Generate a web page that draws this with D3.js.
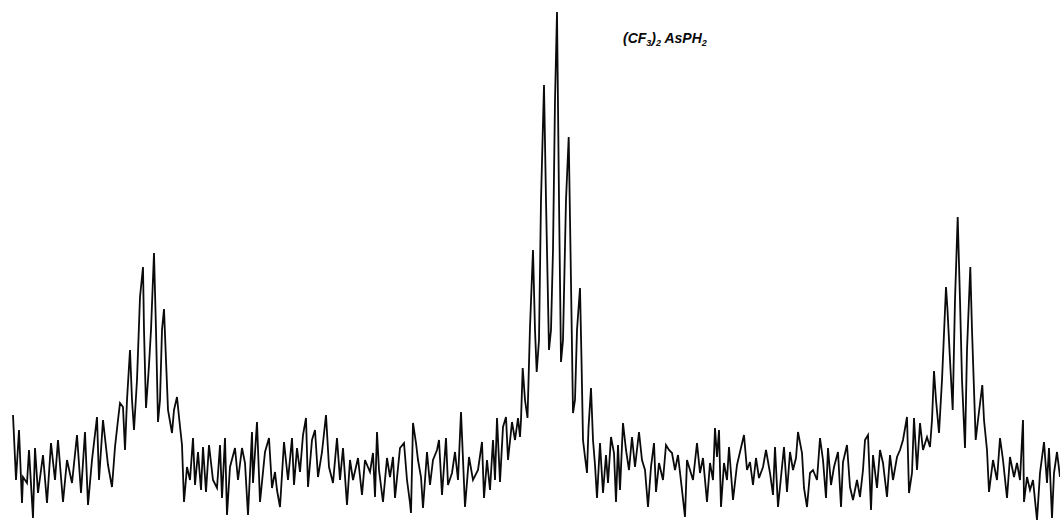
<!DOCTYPE html>
<html>
<head>
<meta charset="utf-8">
<script src="https://cdn.jsdelivr.net/npm/d3@7"></script>
<style>
  body { margin: 0; background: #fff; }
  svg { display: block; }
</style>
</head>
<body>
<div id="chart"></div>
<script>
// spectrum trace: [channel, intensity above baseline]
var baseline = [
  [13,55],[16,-10],[19,40],[22,-33],[23,-7],[27,-13],[29,20],[33,-48],[35,22],[38,-23],
  [43,15],[47,-33],[51,27],[55,-10],[58,30],[63,-32],[67,10],[72,-13],[77,35],[81,-23],
  [85,38],[88,-35],[92,10],[97,53],[99,-10],[103,50],[108,5],[112,-17],[115,23]
]
var leftMultiplet = [
  [118,50],[120,67],[123,63],[125,20],[127,70],[130,120],[132,70],[134,40],[137,90],[140,173],
  [143,203],[144,140],[146,62],[148,90],[149,105],[151,140],[154,217],[156,140],[158,48],[160,70],
  [162,140],[164,161],[166,110],[168,60],[172,37],[174,60],[177,73],[179,53],[182,25]
]
var midLeft = [
  [184,-32],[187,3],[190,-10],[193,32],[195,-15],[198,18],[201,-20],[203,23],[206,-22],[209,25],
  [213,-10],[217,-18],[220,25],[222,-28],[225,32],[227,-45],[230,3],[235,22],[238,-10],[242,22],
  [245,7],[248,-45],[252,38],[253,-13],[257,48],[260,-32],[265,18],[269,32],[272,-18],[275,-2],
  [277,-20],[280,-37],[284,28],[288,-10],[292,32],[294,-15],[297,22],[300,-2],[303,35],[306,52],
  [308,-17],[312,30],[315,40],[318,-7],[322,18],[326,55],[329,3],[333,-13],[337,32],[340,-10],
  [343,22],[347,-35],[350,10],[353,-10],[358,12],[362,-25],[365,10],[370,-2],[373,17],[375,-27],
  [377,38],[379,0],[383,-32],[387,12],[390,-7],[393,13],[395,-28],[400,22],[404,27],[407,-10],
  [410,-33],[411,-43],[413,47],[416,27],[418,10],[421,-7],[423,-38],[427,18],[430,-15],[433,10],
  [437,20],[439,30],[442,-25],[446,32],[448,-15],[452,-3],[455,18],[458,-10],[461,58],[465,-37],
  [469,13],[473,-10],[478,0],[482,28],[484,-28],[487,10],[490,-20],[493,30],[495,-10],[497,52],
  [500,-12],[503,43],[506,53],[508,10],[512,48],[515,30],[518,52],[520,33]
]
var centralMultiplet = [
  [521,50],[522.7,102],[525,70],[527.5,52],[530,143],[533,220],[535,140],[536.7,98],[539,130],[541,270],
  [544,385],[546,270],[549,120],[551,140],[553,220],[555,370],[557,458],[559,270],[561,108],[563,130],
  [566,270],[568.7,333],[570.5,220],[573,57],[575,70],[577,140],[580,182],[581.5,110],[583,30],[585,13],
  [587,-3],[588.5,42],[591,82],[593,30],[595,5]
]
var midRight = [
  [597,-28],[600,27],[603,-23],[606,15],[608,-13],[611,33],[614,17],[616,-32],[618,25],[620,-20],
  [623,47],[626,20],[629,0],[632,33],[635,3],[639,38],[642,10],[645,0],[648,-37],[651,3],
  [654,27],[656,-22],[659,7],[663,-10],[666,25],[669,20],[672,17],[675,0],[678,15],[682,-20],
  [685,-47],[687,10],[690,0],[693,-10],[697,27],[700,-3],[703,12],[707,-32],[710,7],[713,-10],
  [715,42],[717,13],[719,40],[721,-37],[724,7],[727,-10],[729,23],[733,-30],[737,5],[740,18],
  [744,35],[747,0],[750,8],[753,-15],[756,12],[759,-8],[763,3],[766,20],[770,-3],[773,-25],
  [775,23],[778,-37],[781,-7],[784,23],[787,-22],[790,18],[793,0],[796,12],[798,38],[802,17],
  [804,-18],[807,-37],[810,-3],[813,0],[817,-10],[820,32],[823,10],[826,-28],[828,22],[831,-15],
  [834,3],[838,18],[841,-37],[843,8],[847,25],[850,-17],[853,-30],[857,-10],[860,-27],[863,0],
  [865,30],[868,35],[871,-40],[873,15],[877,-18],[880,20],[883,7],[887,-27],[890,15],[893,-10],
  [897,13],[900,20],[903,30],[907,53],[909,-23],[912,-3],[914,52],[917,0],[920,47],[923,20],
  [927,33],[930,23]
]
var rightMultiplet = [
  [932,50],[934,99],[936,70],[939,37],[942,90],[946,183],[947.5,160],[950,110],[952.7,60],[955,170],
  [957.7,253],[960,170],[962,90],[965,22],[967,120],[970.3,203],[972,140],[975.7,30],[978,50],[982.3,85],
  [984,50],[987,20]
]
var rightTail = [
  [989,-22],[993,10],[997,-10],[1000,32],[1003,10],[1007,-28],[1010,13],[1014,-7],[1017,7],[1020,-10],
  [1023,50],[1024,-32],[1027,-7],[1030,-20],[1033,-10],[1037,-50],[1040,-3],[1044,28],[1047,-13],[1049,22],
  [1052,-48],[1054,-3],[1057,18],[1060,-7]
]
var compound = ["(CF", "3", ")", "2", " AsPH", "2"]

var width = 1060, height = 524
var spectrum = [].concat(baseline, leftMultiplet, midLeft, centralMultiplet, midRight, rightMultiplet, rightTail)

var svg = d3.select("#chart").append("svg")
  .attr("width", width)
  .attr("height", height)

var x = d3.scaleLinear().domain([0, 1060]).range([0, width])
var y = d3.scaleLinear().domain([-54, 470]).range([524, 0])

var line = d3.line()
  .x(function(d){ return x(d[0]) })
  .y(function(d){ return y(d[1]) })

svg.append("path")
  .datum(spectrum)
  .attr("d", line)
  .style("fill", "none")
  .style("stroke", "#0a0a0a")
  .style("stroke-width", "1.8px")
  .style("stroke-linejoin", "miter")

// compound label
var label = svg.append("text")
  .attr("x", 623)
  .attr("y", 43)
  .style("font-family", "'Liberation Sans', Arial, sans-serif")
  .style("font-weight", "bold")
  .style("font-style", "italic")
  .style("font-size", "14px")
  .style("fill", "#0a0a0a")
compound.forEach(function(t, i){
  var ts = label.append("tspan").text(t)
  if(i % 2 == 1){
    ts.attr("dy", 3).style("font-size", "9px")
  } else if(i > 0){
    ts.attr("dy", -3)
  }
})
</script>
</body>
</html>
